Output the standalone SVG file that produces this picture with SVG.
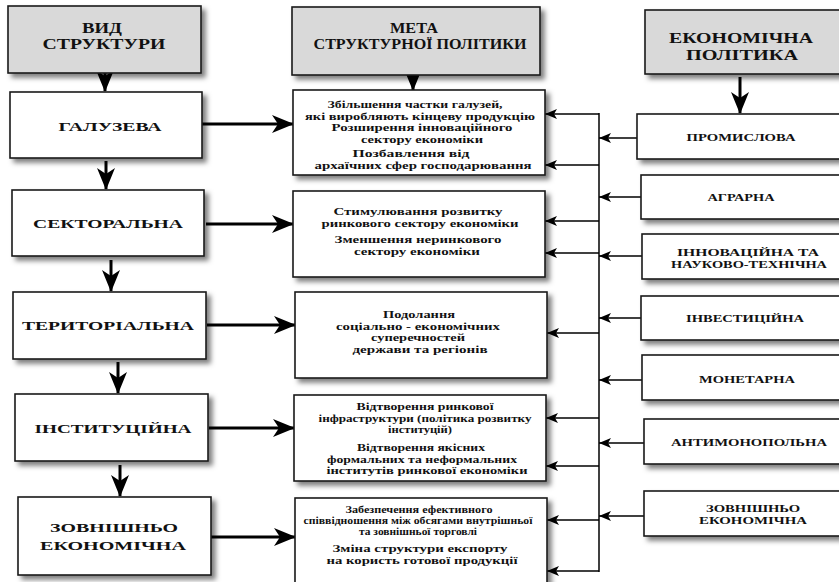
<svg xmlns="http://www.w3.org/2000/svg" width="839" height="582" viewBox="0 0 839 582">
<style>
  .box { fill: #ffffff; stroke: #1a1a1a; stroke-width: 1.6; filter: url(#sh); }
  .hdr { fill: #d9d9d9; stroke: #1a1a1a; stroke-width: 1.6; filter: url(#sh); }
  text { font-family: "Liberation Serif", "Times New Roman", serif; font-weight: bold; fill: #111; text-anchor: middle; }
  .h { font-size: 15px; }
  .l { font-size: 13.5px; }
  .m { font-size: 10px; }
  .s { font-size: 9.5px; }
  .r { font-size: 10px; }
  .thick { stroke: #000; stroke-width: 3; fill: none; marker-end: url(#big); }
  .thin { stroke: #000; stroke-width: 1.3; fill: none; marker-end: url(#small); }
  .bus { stroke: #000; stroke-width: 1.5; fill: none; }
</style>
<defs>
  <filter id="sh" x="-10%" y="-10%" width="130%" height="140%">
    <feDropShadow dx="4" dy="4" stdDeviation="2.5" flood-color="#000" flood-opacity="0.5"/>
  </filter>
  <marker id="big" markerUnits="userSpaceOnUse" markerWidth="22" markerHeight="18" refX="21" refY="9" orient="auto">
    <path d="M0,0 L22,9 L0,18 L6,9 Z" fill="#000"/>
  </marker>
  <marker id="small" markerUnits="userSpaceOnUse" markerWidth="12" markerHeight="10" refX="12" refY="5" orient="auto">
    <path d="M0,0 L12,5 L0,10 L3,5 Z" fill="#000"/>
  </marker>
</defs>

<g id="connectors">
  <!-- left column vertical arrows -->
  <line class="thick" x1="105" y1="73" x2="105" y2="91"/>
  <line class="thick" x1="106" y1="161" x2="106" y2="189"/>
  <line class="thick" x1="111" y1="260" x2="111" y2="291"/>
  <line class="thick" x1="118" y1="362" x2="118" y2="393"/>
  <line class="thick" x1="120" y1="465" x2="120" y2="496"/>
  <!-- header arrows -->
  <line class="thick" x1="413" y1="75" x2="413" y2="90"/>
  <line class="thick" x1="740" y1="77" x2="740" y2="113"/>
  <!-- left to middle -->
  <line class="thick" x1="202" y1="124" x2="293" y2="124"/>
  <line class="thick" x1="206" y1="224" x2="293" y2="224"/>
  <line class="thick" x1="207" y1="325" x2="295" y2="325"/>
  <line class="thick" x1="209" y1="428" x2="294" y2="428"/>
  <line class="thick" x1="211" y1="537" x2="295" y2="537"/>
  <!-- bus -->
  <line class="bus" x1="599" y1="113" x2="599" y2="572"/>
  <!-- bus to middle -->
  <line class="thin" x1="599" y1="114" x2="545" y2="114"/>
  <line class="thin" x1="599" y1="165" x2="545" y2="165"/>
  <line class="thin" x1="599" y1="221" x2="545" y2="221"/>
  <line class="thin" x1="599" y1="253" x2="545" y2="253"/>
  <line class="thin" x1="599" y1="333" x2="547" y2="333"/>
  <line class="thin" x1="599" y1="418" x2="546" y2="418"/>
  <line class="thin" x1="599" y1="466" x2="546" y2="466"/>
  <line class="thin" x1="599" y1="520" x2="547" y2="520"/>
  <line class="thin" x1="599" y1="571" x2="547" y2="571"/>
  <!-- right to bus -->
  <line class="thin" x1="637" y1="138" x2="599" y2="138"/>
  <line class="thin" x1="641" y1="197" x2="599" y2="197"/>
  <line class="thin" x1="642" y1="256" x2="599" y2="256"/>
  <line class="thin" x1="641" y1="318" x2="599" y2="318"/>
  <line class="thin" x1="642" y1="380" x2="599" y2="380"/>
  <line class="thin" x1="644" y1="443" x2="599" y2="443"/>
  <line class="thin" x1="644" y1="516" x2="599" y2="516"/>
</g>

<g id="h-vid">
  <rect class="hdr" x="8" y="6" width="193" height="67"/>
  <text class="h" x="102" y="33" textLength="40" lengthAdjust="spacingAndGlyphs">ВИД</text>
  <text class="h" x="104" y="49" textLength="123" lengthAdjust="spacingAndGlyphs">СТРУКТУРИ</text>
</g>
<g id="h-meta">
  <rect class="hdr" x="292" y="7" width="248" height="68"/>
  <text class="h" x="414" y="33" textLength="48" lengthAdjust="spacingAndGlyphs">МЕТА</text>
  <text class="h" x="420" y="49" textLength="213" lengthAdjust="spacingAndGlyphs">СТРУКТУРНОЇ ПОЛІТИКИ</text>
</g>
<g id="h-econ">
  <rect class="hdr" x="645" y="10" width="205" height="64"/>
  <text class="h" x="741" y="43" textLength="144" lengthAdjust="spacingAndGlyphs">ЕКОНОМІЧНА</text>
  <text class="h" x="742" y="60" textLength="112" lengthAdjust="spacingAndGlyphs">ПОЛІТИКА</text>
</g>

<g id="n-galuzeva">
  <rect class="box" x="10" y="92" width="192" height="66"/>
  <text class="l" x="110" y="131" textLength="103" lengthAdjust="spacingAndGlyphs">ГАЛУЗЕВА</text>
</g>
<g id="n-sektoralna">
  <rect class="box" x="12" y="190" width="192" height="66"/>
  <text class="l" x="108" y="228" textLength="150" lengthAdjust="spacingAndGlyphs">СЕКТОРАЛЬНА</text>
</g>
<g id="n-terytorialna">
  <rect class="box" x="13" y="292" width="193" height="67"/>
  <text class="l" x="108" y="330" textLength="172" lengthAdjust="spacingAndGlyphs">ТЕРИТОРІАЛЬНА</text>
</g>
<g id="n-instytutsiina">
  <rect class="box" x="15" y="394" width="193" height="67"/>
  <text class="l" x="113" y="433" textLength="157" lengthAdjust="spacingAndGlyphs">ІНСТИТУЦІЙНА</text>
</g>
<g id="n-zovnishnio">
  <rect class="box" x="18" y="497" width="193" height="78"/>
  <text class="l" x="114" y="532" textLength="128" lengthAdjust="spacingAndGlyphs">ЗОВНІШНЬО</text>
  <text class="l" x="113" y="550" textLength="146" lengthAdjust="spacingAndGlyphs">ЕКОНОМІЧНА</text>
</g>

<g id="m-galuzeva">
  <rect class="box" x="293" y="90" width="252" height="85"/>
  <text class="m" x="415" y="108" textLength="175" lengthAdjust="spacingAndGlyphs">Збільшення частки галузей,</text>
  <text class="m" x="420" y="119.5" textLength="230" lengthAdjust="spacingAndGlyphs">які виробляють кінцеву продукцію</text>
  <text class="m" x="422" y="131" textLength="181" lengthAdjust="spacingAndGlyphs">Розширення інноваційного</text>
  <text class="m" x="422" y="142.5" textLength="122" lengthAdjust="spacingAndGlyphs">сектору економіки</text>
  <text class="m" x="411" y="157" textLength="117" lengthAdjust="spacingAndGlyphs">Позбавлення від</text>
  <text class="m" x="423" y="168.5" textLength="217" lengthAdjust="spacingAndGlyphs">архаїчних сфер господарювання</text>
</g>
<g id="m-sektoralna">
  <rect class="box" x="293" y="191" width="252" height="86"/>
  <text class="m" x="418" y="215" textLength="169" lengthAdjust="spacingAndGlyphs">Стимулювання розвитку</text>
  <text class="m" x="420" y="226.5" textLength="197" lengthAdjust="spacingAndGlyphs">ринкового сектору економіки</text>
  <text class="m" x="418" y="243" textLength="167" lengthAdjust="spacingAndGlyphs">Зменшення неринкового</text>
  <text class="m" x="417" y="254.5" textLength="126" lengthAdjust="spacingAndGlyphs">сектору економіки</text>
</g>
<g id="m-terytorialna">
  <rect class="box" x="295" y="292" width="252" height="86"/>
  <text class="m" x="419" y="318" textLength="72" lengthAdjust="spacingAndGlyphs">Подолання</text>
  <text class="m" x="418" y="329.5" textLength="164" lengthAdjust="spacingAndGlyphs">соціально - економічних</text>
  <text class="m" x="418" y="341" textLength="94" lengthAdjust="spacingAndGlyphs">суперечностей</text>
  <text class="m" x="420" y="352.5" textLength="135" lengthAdjust="spacingAndGlyphs">держави та регіонів</text>
</g>
<g id="m-instytutsiina">
  <rect class="box" x="294" y="395" width="252" height="86"/>
  <text class="m" x="425" y="410" textLength="137" lengthAdjust="spacingAndGlyphs">Відтворення ринкової</text>
  <text class="m" x="425" y="421.5" textLength="213" lengthAdjust="spacingAndGlyphs">інфраструктури (політика розвитку</text>
  <text class="m" x="420" y="433" textLength="64" lengthAdjust="spacingAndGlyphs">інституцій)</text>
  <text class="m" x="421" y="451" textLength="128" lengthAdjust="spacingAndGlyphs">Відтворення якісних</text>
  <text class="m" x="422" y="462.5" textLength="190" lengthAdjust="spacingAndGlyphs">формальних та неформальних</text>
  <text class="m" x="427" y="474" textLength="201" lengthAdjust="spacingAndGlyphs">інститутів ринкової економіки</text>
</g>
<g id="m-zovnishnio">
  <rect class="box" x="295" y="498" width="252" height="92"/>
  <text class="s" x="419" y="513" textLength="147" lengthAdjust="spacingAndGlyphs">Забезпечення ефективного</text>
  <text class="s" x="418" y="524" textLength="229" lengthAdjust="spacingAndGlyphs">співвідношення між обсягами внутрішньої</text>
  <text class="s" x="418" y="535" textLength="118" lengthAdjust="spacingAndGlyphs">та зовнішньої торговлі</text>
  <text class="m" x="420" y="552" textLength="175" lengthAdjust="spacingAndGlyphs">Зміна структури експорту</text>
  <text class="m" x="422" y="563.5" textLength="191" lengthAdjust="spacingAndGlyphs">на користь готової продукції</text>
</g>

<g id="r-promyslova">
  <rect class="box" x="637" y="114" width="215" height="45"/>
  <text class="r" x="741" y="141" textLength="109" lengthAdjust="spacingAndGlyphs">ПРОМИСЛОВА</text>
</g>
<g id="r-agrarna">
  <rect class="box" x="641" y="175" width="215" height="44"/>
  <text class="r" x="741" y="201" textLength="67" lengthAdjust="spacingAndGlyphs">АГРАРНА</text>
</g>
<g id="r-innovatsiina">
  <rect class="box" x="642" y="234" width="215" height="45"/>
  <text class="r" x="748" y="256" textLength="142" lengthAdjust="spacingAndGlyphs">ІННОВАЦІЙНА ТА</text>
  <text class="r" x="749" y="268" textLength="156" lengthAdjust="spacingAndGlyphs">НАУКОВО-ТЕХНІЧНА</text>
</g>
<g id="r-investytsiina">
  <rect class="box" x="641" y="296" width="215" height="44"/>
  <text class="r" x="745" y="322" textLength="118" lengthAdjust="spacingAndGlyphs">ІНВЕСТИЦІЙНА</text>
</g>
<g id="r-monetarna">
  <rect class="box" x="642" y="355" width="215" height="45"/>
  <text class="r" x="747" y="383" textLength="96" lengthAdjust="spacingAndGlyphs">МОНЕТАРНА</text>
</g>
<g id="r-antymonopolna">
  <rect class="box" x="644" y="419" width="215" height="45"/>
  <text class="r" x="749" y="446" textLength="156" lengthAdjust="spacingAndGlyphs">АНТИМОНОПОЛЬНА</text>
</g>
<g id="r-zovnishnio">
  <rect class="box" x="644" y="491" width="215" height="45"/>
  <text class="r" x="753" y="512" textLength="94" lengthAdjust="spacingAndGlyphs">ЗОВНІШНЬО</text>
  <text class="r" x="753" y="524" textLength="108" lengthAdjust="spacingAndGlyphs">ЕКОНОМІЧНА</text>
</g>
</svg>
